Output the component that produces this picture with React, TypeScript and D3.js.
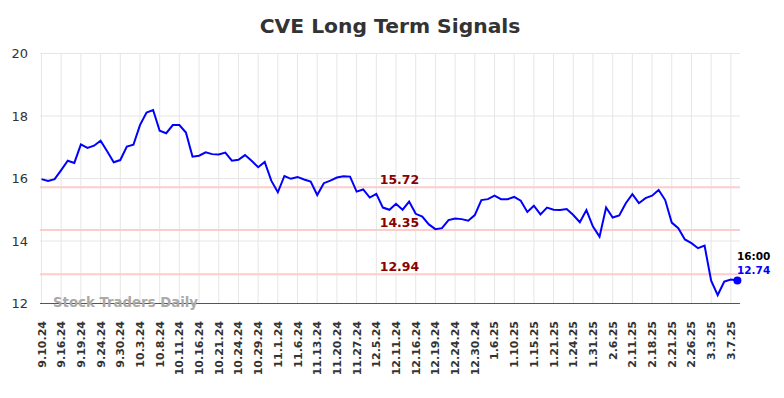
import React, { useEffect, useRef } from "react";
import * as d3 from "d3";

// tick labels, one every 3 sessions
const dates = [
  "9.10.24", "9.16.24", "9.19.24", "9.24.24", "9.30.24", "10.3.24", "10.8.24",
  "10.11.24", "10.16.24", "10.21.24", "10.24.24", "10.29.24", "11.1.24", "11.6.24",
  "11.13.24", "11.20.24", "11.27.24", "12.5.24", "12.11.24", "12.16.24", "12.19.24",
  "12.24.24", "12.30.24", "1.6.25", "1.10.25", "1.15.25", "1.21.25", "1.24.25",
  "1.31.25", "2.6.25", "2.11.25", "2.18.25", "2.21.25", "2.26.25", "3.3.25", "3.7.25"
];

const prices = [
  15.98, 15.92, 15.98, 16.27, 16.57, 16.5, 17.09, 16.98, 17.05, 17.21,
  16.87, 16.52, 16.59, 17.02, 17.08, 17.71, 18.11, 18.19, 17.53, 17.45,
  17.71, 17.71, 17.47, 16.7, 16.73, 16.84, 16.78, 16.77, 16.83, 16.57,
  16.6, 16.75, 16.57, 16.36, 16.53, 15.93, 15.56, 16.08, 15.99, 16.05,
  15.97, 15.9, 15.47, 15.85, 15.93, 16.03, 16.07, 16.06, 15.58, 15.65,
  15.39, 15.51, 15.07, 15.0, 15.19, 15.0, 15.26, 14.87, 14.78, 14.53,
  14.38, 14.41, 14.67, 14.72, 14.7, 14.65, 14.83, 15.31, 15.34, 15.45,
  15.34, 15.34, 15.41, 15.29, 14.93, 15.13, 14.85, 15.07, 15.0, 14.99,
  15.02, 14.83, 14.6, 14.99, 14.46, 14.14, 15.07, 14.75, 14.82, 15.21,
  15.5, 15.21, 15.37, 15.45, 15.63, 15.31, 14.59, 14.41, 14.05, 13.93,
  13.77, 13.85, 12.73, 12.27, 12.7, 12.77, 12.74
];

const levels = [15.72, 14.35, 12.94];
const yTicks = [12, 14, 16, 18, 20];
const lastTime = "16:00";

const App = () => {
  const visual = useRef(null);

  useEffect(() => {
    const width = 784;
    const height = 398;
    const left = 40;
    const right = 740;
    const top = 53.5;
    const bottom = 303.5;
    const font = "DejaVu Sans, sans-serif";

    const svg = d3.select(visual.current).attr("width", width).attr("height", height);
    svg.selectAll("*").remove();

    const xScale = d3.scaleLinear().domain([0, prices.length - 1]).range([41.5, 737.4]);
    const yScale = d3.scaleLinear().domain([12, 20]).range([bottom, top]);

    // title
    svg
      .append("text")
      .attr("x", 390)
      .attr("y", 33)
      .attr("text-anchor", "middle")
      .style("font-family", font)
      .style("font-size", "20.3px")
      .style("font-weight", "bold")
      .attr("fill", "#333")
      .text("CVE Long Term Signals");

    // grid
    svg
      .selectAll(".hgrid")
      .data(yTicks)
      .join("line")
      .attr("class", "hgrid")
      .attr("x1", left)
      .attr("x2", right)
      .attr("y1", d => yScale(d))
      .attr("y2", d => yScale(d))
      .attr("stroke", "#e6e6e6")
      .attr("stroke-width", 1);

    svg
      .selectAll(".vgrid")
      .data(dates)
      .join("line")
      .attr("class", "vgrid")
      .attr("x1", (d, i) => xScale(i * 3))
      .attr("x2", (d, i) => xScale(i * 3))
      .attr("y1", top)
      .attr("y2", bottom)
      .attr("stroke", "#e6e6e6")
      .attr("stroke-width", 1);

    // y labels
    svg
      .selectAll(".ylab")
      .data(yTicks)
      .join("text")
      .attr("class", "ylab")
      .attr("x", 28)
      .attr("y", d => yScale(d) + 4.5)
      .attr("text-anchor", "end")
      .style("font-family", font)
      .style("font-size", "13px")
      .attr("fill", "#333")
      .text(d => d);

    // x labels
    svg
      .selectAll(".xlab")
      .data(dates)
      .join("text")
      .attr("class", "xlab")
      .attr("transform", (d, i) => `translate(${xScale(i * 3) + 4},321) rotate(-90)`)
      .attr("text-anchor", "end")
      .style("font-family", font)
      .style("font-size", "11px")
      .style("font-weight", "bold")
      .attr("fill", "#333")
      .text(d => d);

    // signal levels
    svg
      .selectAll(".level")
      .data(levels)
      .join("line")
      .attr("class", "level")
      .attr("x1", left)
      .attr("x2", right)
      .attr("y1", d => yScale(d))
      .attr("y2", d => yScale(d))
      .attr("stroke", "#ffcccc")
      .attr("stroke-width", 2);

    svg
      .selectAll(".levlab")
      .data(levels)
      .join("text")
      .attr("class", "levlab")
      .attr("x", 399.5)
      .attr("y", d => yScale(d) - 3)
      .attr("text-anchor", "middle")
      .style("font-family", font)
      .style("font-size", "12.5px")
      .style("font-weight", "bold")
      .attr("fill", "#8b0000")
      .text(d => d.toFixed(2));

    // bottom axis line
    svg
      .append("line")
      .attr("x1", left)
      .attr("x2", right)
      .attr("y1", bottom)
      .attr("y2", bottom)
      .attr("stroke", "#555")
      .attr("stroke-width", 1);

    // watermark
    svg
      .append("text")
      .attr("x", 53)
      .attr("y", 307)
      .style("font-family", font)
      .style("font-size", "13.3px")
      .style("font-weight", "bold")
      .attr("fill", "#aaa")
      .text("Stock Traders Daily");

    // price line
    const line = d3
      .line()
      .x((d, i) => xScale(i))
      .y(d => yScale(d));

    svg
      .append("path")
      .datum(prices)
      .attr("d", line)
      .attr("fill", "none")
      .attr("stroke", "#0000ff")
      .attr("stroke-width", 2);

    const last = prices.length - 1;
    svg
      .append("circle")
      .attr("cx", xScale(last))
      .attr("cy", yScale(prices[last]))
      .attr("r", 4)
      .attr("fill", "#0000ff");

    svg
      .append("text")
      .attr("x", 737)
      .attr("y", 260)
      .style("font-family", font)
      .style("font-size", "10.5px")
      .style("font-weight", "bold")
      .attr("fill", "#000")
      .text(lastTime);

    svg
      .append("text")
      .attr("x", 737)
      .attr("y", 274)
      .style("font-family", font)
      .style("font-size", "10.5px")
      .style("font-weight", "bold")
      .attr("fill", "#0000ff")
      .text(prices[last].toFixed(2));
  }, []);

  return (
    <svg
      ref={visual}
      style={{ position: "absolute", left: 0, top: 0, display: "block", background: "#fff" }}
    />
  );
};

export default App;
